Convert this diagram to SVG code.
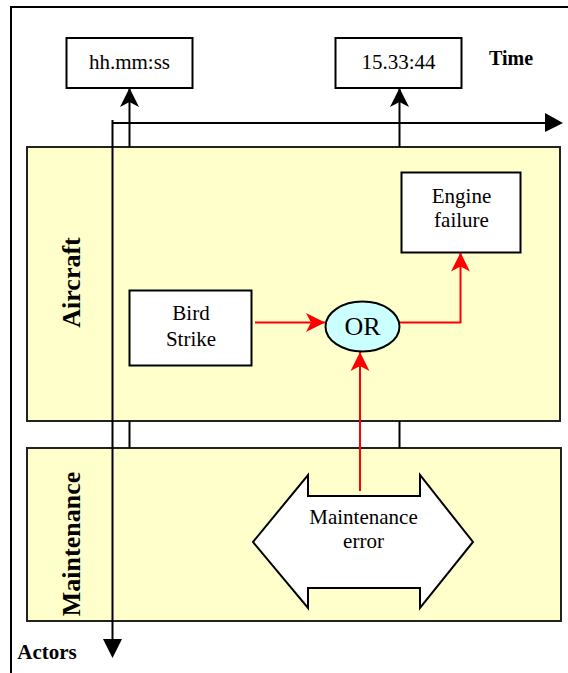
<svg xmlns="http://www.w3.org/2000/svg" width="568" height="673" viewBox="0 0 568 673">
<style>
  .t{font-family:"Liberation Serif","Times New Roman",serif;font-size:21px;fill:#000;text-anchor:middle}
  .b{font-weight:bold}
  .box{fill:#fff;stroke:#000;stroke-width:2}
  .lane{fill:#ffffcc;stroke:#222;stroke-width:2}
  .ax{fill:none;stroke:#000;stroke-width:2}
  .red{fill:none;stroke:#ff0000;stroke-width:2}
</style>
<defs>
  <marker id="ab" markerUnits="userSpaceOnUse" markerWidth="22" markerHeight="22" viewBox="-20 -11 22 22" refX="0" refY="0" orient="auto">
    <path d="M0,0 L-19,-9.5 L-14,0 L-19,9.5 Z" fill="#000"/>
  </marker>
  <marker id="ar" markerUnits="userSpaceOnUse" markerWidth="22" markerHeight="22" viewBox="-20 -11 22 22" refX="0" refY="0" orient="auto">
    <path d="M0,0 L-19,-9.5 L-14,0 L-19,9.5 Z" fill="#ff0000"/>
  </marker>
</defs>
<rect width="568" height="673" fill="#fff"/>
<!-- outer frame -->
<path d="M11,673 V7 H568" class="ax"/>

<g id="lane-aircraft">
  <rect x="27" y="147" width="533" height="274" class="lane"/>
  <text class="t b" font-size="26" transform="translate(80,282.5) rotate(-90)" style="font-size:26px">Aircraft</text>
</g>
<g id="lane-maintenance">
  <rect x="27" y="448" width="534" height="173" class="lane"/>
  <text class="t b" transform="translate(80,544) rotate(-90)" style="font-size:26px">Maintenance</text>
</g>

<g id="connectors">
  <!-- time axis -->
  <line x1="112" y1="123" x2="546" y2="123" class="ax"/>
  <polygon points="545,113 563,123 545,132" fill="#000"/>
  <!-- actors axis -->
  <line x1="112.5" y1="120" x2="112.5" y2="640" class="ax"/>
  <polygon points="103,639 122,639 112.5,658" fill="#000"/>
  <!-- time ticks -->
  <line x1="129.5" y1="147" x2="129.5" y2="88" class="ax" marker-end="url(#ab)"/>
  <line x1="399.5" y1="147" x2="399.5" y2="88" class="ax" marker-end="url(#ab)"/>
  <line x1="129.5" y1="421" x2="129.5" y2="448" class="ax"/>
  <line x1="399.5" y1="421" x2="399.5" y2="448" class="ax"/>
  <!-- red flows -->
  <line x1="255" y1="322.5" x2="325" y2="322.5" class="red" marker-end="url(#ar)"/>
  <polyline points="399,322.5 460.5,322.5 460.5,252.5" class="red" marker-end="url(#ar)"/>
  <line x1="360" y1="491" x2="360" y2="352" class="red" marker-end="url(#ar)"/>
</g>

<g id="time-hhmmss">
  <rect x="66.5" y="38" width="126" height="50" class="box"/>
  <text class="t" x="129.5" y="69">hh.mm:ss</text>
</g>
<g id="time-153344">
  <rect x="335.5" y="38" width="126" height="50" class="box"/>
  <text class="t" x="398.5" y="69">15.33:44</text>
</g>
<g id="label-time">
  <text class="t b" x="511" y="65" style="font-size:20px">Time</text>
</g>
<g id="label-actors">
  <text class="t b" x="47" y="659" style="font-size:21px">Actors</text>
</g>

<g id="bird-strike">
  <rect x="129.5" y="290.5" width="122" height="75" class="box"/>
  <text class="t" x="191" y="320">Bird</text>
  <text class="t" x="191" y="345.5">Strike</text>
</g>
<g id="engine-failure">
  <rect x="401.5" y="172.5" width="119" height="80" class="box"/>
  <text class="t" x="461.5" y="202.5">Engine</text>
  <text class="t" x="461.5" y="227">failure</text>
</g>
<g id="or-gate">
  <ellipse cx="362.5" cy="326.5" rx="37" ry="25" fill="#ccffff" stroke="#000" stroke-width="2"/>
  <text class="t" x="362.5" y="335" style="font-size:26px">OR</text>
</g>
<g id="maintenance-error">
  <polygon points="253,542 308,475 308,496 420,496 420,475 473,542 420,608 420,588 308,588 308,608" fill="#fff" stroke="#000" stroke-width="2"/>
  <text class="t" x="363.5" y="523.5">Maintenance</text>
  <text class="t" x="363.5" y="547.5">error</text>
</g>
</svg>
